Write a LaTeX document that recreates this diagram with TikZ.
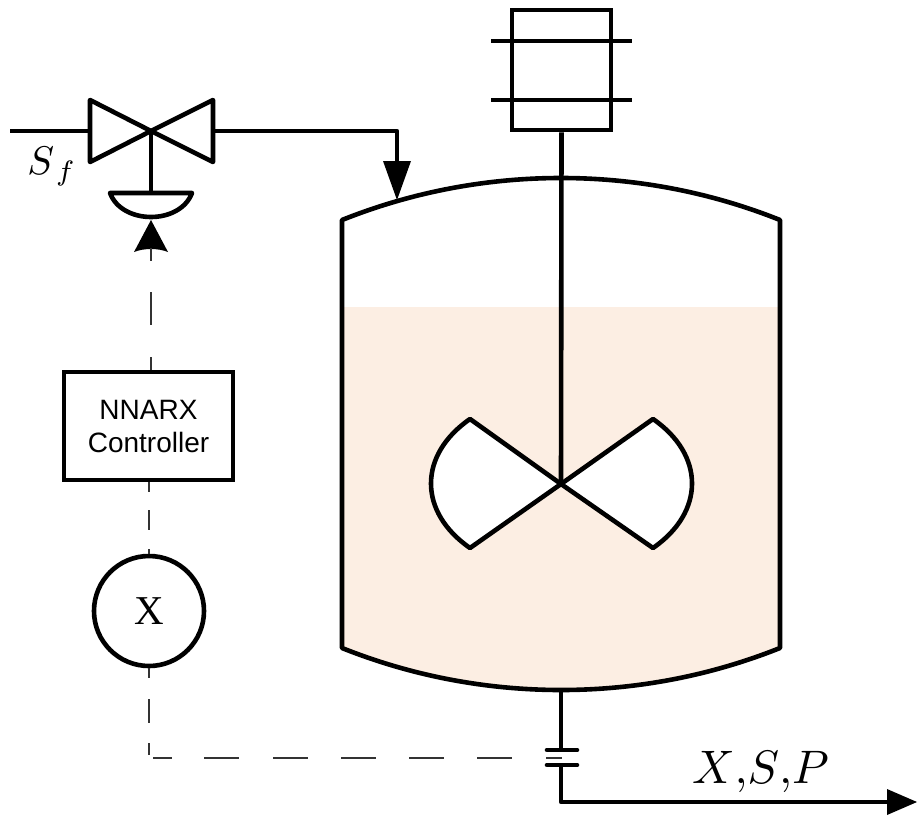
\documentclass[tikz,border=0pt]{standalone}
\usepackage{fontspec}
\setmainfont{Liberation Serif}
\setsansfont{Liberation Sans}
\usetikzlibrary{positioning, arrows.meta}
\definecolor{liquid}{HTML}{FCEEE3}

\tikzset{
  pipe/.style={line width=4.6pt, line join=round},
  signal/.style={line width=1.4pt, draw=black!80},
  box/.style={draw, line width=4.6pt, inner sep=0pt}
}

\begin{document}
\begin{tikzpicture}[x=1pt, y=-1pt]
  \useasboundingbox (0,0) rectangle (917,816);

  % liquid and vessel
  \fill[liquid] (342,307) -- (780,307) -- (780,648)
    .. controls (640,704) and (482,704) .. (342,648) -- cycle;
  \draw[pipe] (342,220) .. controls (482,164) and (640,164) .. (780,220)
    -- (780,648) .. controls (640,704) and (482,704) .. (342,648) -- cycle;

  % motor
  \node[box, minimum width=99pt, minimum height=120pt] (M) at (561.5,70) {};
  \draw[pipe] (491,41) -- (632,41);
  \draw[pipe] (491,100) -- (632,100);

  % impeller
  \coordinate (I) at (561,484);
  \draw[pipe, fill=white] (I) -- (470,419) .. controls (418,455) and (418,512) .. (470,548) -- cycle;
  \draw[pipe, fill=white] (I) -- (653,419) .. controls (705,455) and (705,512) .. (653,548) -- cycle;
  \draw[pipe] (M.south) -- (I);

  % valve
  \coordinate (V) at (151,131);
  \draw[pipe] (V) -- (90,100) -- (90,162) -- cycle;
  \draw[pipe] (V) -- (213,100) -- (213,162) -- cycle;
  \coordinate (Fin) at (10,131);
  \coordinate (FinEnd) at (90,131);
  \coordinate (Fout) at (213,131);
  \coordinate (Fturn) at (397,131);
  \coordinate (Ftip) at (397,200);
  \draw[pipe] (Fin) -- (FinEnd);
  \draw[pipe] (Fout) -- (Fturn) -- (397,165);
  \fill (Ftip) -- (383,161) -- (411,161) -- cycle;
  \node[inner sep=0pt, scale=4] (Sf) at (52,167) {$S_{\kern1pt f}$};

  % actuator
  \coordinate (A) at (151,193);
  \draw[pipe] (V) -- (A);
  \draw[pipe] (110,193) -- (192,193) .. controls (180,225) and (122,225) .. (110,193) -- cycle;
  \coordinate (Atip) at (151,220);
  \coordinate (Abase) at (151,248);
  \fill (Atip) -- (168,252) .. controls (158,248) and (144,248) .. (134,252) -- cycle;

  % control loop
  \node[box, minimum width=169pt, minimum height=108pt, align=center, font=\sffamily\fontsize{28}{33}\selectfont] (C) at (148.5,426) {NNARX\\Controller};
  \node[draw, circle, line width=4.6pt, minimum size=110pt, inner sep=0pt, font=\fontsize{41}{41}\selectfont] (X) at (149,611) {X};
  \coordinate (Scorner) at (149,758);
  \coordinate (Sprobe) at (562,758);
  \draw[signal, dash pattern=on 13pt off 31pt on 33pt off 32pt on 20pt off 10pt] (Abase) -- (C.north -| Abase);
  \draw[signal, dash pattern=on 10pt off 18pt on 20pt off 19pt on 10pt off 10pt] (C.south -| X) -- (X.north);
  \draw[signal, dash pattern=on 10pt off 21pt on 24pt off 20pt on 12pt off 7pt on 19pt off 32pt
    on 35pt off 34pt on 35pt off 33pt on 35pt off 33pt on 35pt off 33pt on 35pt off 34pt on 18pt off 10pt]
    (X.south) -- (Scorner) -- (Sprobe);

  % outlet
  \coordinate (Obar) at (561,750);
  \coordinate (Obar2) at (561,765);
  \draw[pipe] (561,690) -- (Obar);
  \draw[pipe, line cap=round] (547,750) -- (577,750);
  \draw[pipe, line cap=round] (547,765) -- (577,765);
  \draw[pipe] (Obar2) -- (561,802) -- (890,802);
  \fill (917,802) -- (887,789) -- (887,815) -- cycle;
  \node[inner sep=0pt, scale=4.7] (Out) at (760.5,772) {$X{,}S{,}P$};
\end{tikzpicture}
\end{document}
